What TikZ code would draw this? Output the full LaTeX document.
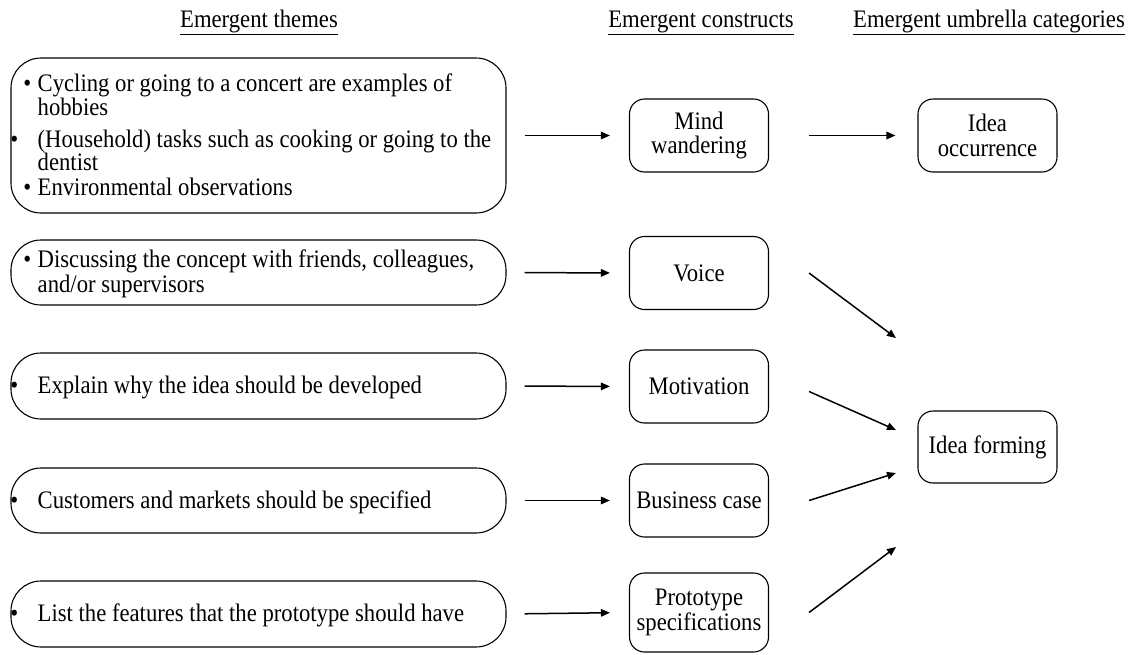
\documentclass[tikz,border=0pt]{standalone}
\usepackage{fontspec}
\setmainfont{Liberation Serif}[FakeStretch=0.9]
\usetikzlibrary{arrows.meta}
\begin{document}
\begin{tikzpicture}[x=1pt,y=-1pt,
  every node/.style={font=\fontsize{25.2}{24.5}\selectfont},
  themebox/.style={draw, line width=1.1pt, rounded corners=30pt, minimum width=495pt, inner sep=0pt},
  conbox/.style={draw, line width=1.1pt, rounded corners=15pt, minimum width=139pt, minimum height=73pt, align=center, inner sep=0pt},
  txt/.style={anchor=base west, inner sep=0pt},
  head/.style={anchor=base, inner sep=0pt},
  flow/.style={-{Triangle[length=9pt,width=7.5pt]}, line width=1.5pt}
]
\path[use as bounding box] (0,0) rectangle (1130,654);

% column headings
\node[head] (h1) at (259,27) {\underline{Emergent themes}};
\node[head] (h2) at (701,27) {\underline{Emergent constructs}};
\node[head] (h3) at (989,27) {\underline{Emergent umbrella categories}};

% emergent themes
\node[themebox, minimum height=155pt] (th1) at (258.5,135.5) {};
\node[txt] (t1a) at (37.5,91) {\llap{\textbullet\hspace{6.5pt}}Cycling or going to a concert are examples of};
\node[txt] (t1b) at (37.5,115) {hobbies};
\node[txt] (t1c) at (37.5,147) {\llap{\textbullet\hspace{19.5pt}}(Household) tasks such as cooking or going to the};
\node[txt] (t1d) at (37.5,170) {dentist};
\node[txt] (t1e) at (37.5,195) {\llap{\textbullet\hspace{6.5pt}}Environmental observations};

\node[themebox, minimum height=65pt] (th2) at (258.5,272.5) {};
\node[txt] (t2a) at (37.5,267) {\llap{\textbullet\hspace{6.5pt}}Discussing the concept with friends, colleagues,};
\node[txt] (t2b) at (37.5,292) {and/or supervisors};

\node[themebox, minimum height=66pt] (th3) at (258.5,386) {};
\node[txt] (t3) at (37.5,393) {\llap{\textbullet\hspace{19.5pt}}Explain why the idea should be developed};

\node[themebox, minimum height=65pt] (th4) at (258.5,500.5) {};
\node[txt] (t4) at (37.5,508) {\llap{\textbullet\hspace{19.5pt}}Customers and markets should be specified};

\node[themebox, minimum height=66pt] (th5) at (258.5,614) {};
\node[txt] (t5) at (37.5,621) {\llap{\textbullet\hspace{19.5pt}}List the features that the prototype should have};

% emergent constructs
\node[conbox] (mind) at (699,135.5) {Mind\\wandering};
\node[conbox] (voice) at (699,273) {Voice};
\node[conbox] (motiv) at (699,386.5) {Motivation};
\node[conbox] (busi) at (699,500.5) {Business case};
\node[conbox, minimum height=79pt] (proto) at (699,612.5) {Prototype\\specifications};

% umbrella categories
\node[conbox] (occur) at (987.5,135.5) {Idea\\occurrence};
\node[conbox, minimum height=72pt] (forming) at (987.5,447) {Idea forming};

% theme -> construct
\draw[flow, shorten <=18pt, shorten >=19pt] (th1.east |- mind.west) -- (mind.west);
\draw[flow, shorten <=18pt, shorten >=19pt] (th2.east) -- (voice.west);
\draw[flow, shorten <=18pt, shorten >=19pt] (th3.east) -- (motiv.west);
\draw[flow, shorten <=18pt, shorten >=19pt] (th4.east) -- (busi.west);
\draw[flow, shorten <=18pt, shorten >=19pt] (th5.east) -- (proto.west);

% construct -> umbrella category
\draw[flow, shorten <=40pt, shorten >=22pt] (mind.east) -- (occur.west);

\coordinate (f1) at (896,338);
\coordinate (f2) at (896,430);
\coordinate (f3) at (896,473);
\coordinate (f4) at (896,547);
\draw[flow] ([xshift=40pt]voice.east) -- (f1);
\draw[flow] ([xshift=40pt,yshift=-5pt]motiv.east) -- (f2);
\draw[flow] ([xshift=40pt]busi.east) -- (f3);
\draw[flow] ([xshift=40pt]proto.east) -- (f4);
\end{tikzpicture}
\end{document}
